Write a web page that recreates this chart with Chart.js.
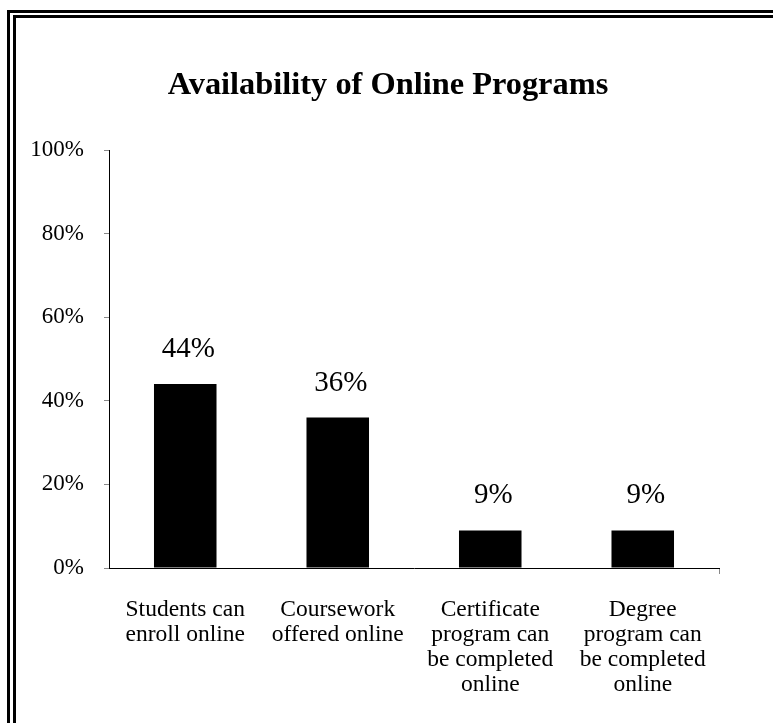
<!DOCTYPE html>
<html>
<head>
<meta charset="utf-8">
<script src="https://cdn.jsdelivr.net/npm/chart.js@4/dist/chart.umd.min.js"></script>
<style>
  html, body { margin: 0; padding: 0; background: #fff; }
  #wrap { position: relative; width: 773px; height: 723px; overflow: hidden; }
  .frame { position: absolute; border-left: 3px solid #000; border-top: 3px solid #000; right: -20px; bottom: -20px; }
  #outer { left: 7px; top: 10px; }
  #inner { left: 13px; top: 15px; }
  canvas { position: absolute; left: 0; top: 0; }
</style>
</head>
<body>
<div id="wrap">
  <div class="frame" id="outer"></div>
  <div class="frame" id="inner"></div>
  <canvas id="chart" width="773" height="723"></canvas>
</div>
<script>
(function () {
    'use strict';

    var chartTitle = 'Availability of Online Programs';
    var categories = [
        ['Students can', 'enroll online'],
        ['Coursework', 'offered online'],
        ['Certificate', 'program can', 'be completed', 'online'],
        ['Degree', 'program can', 'be completed', 'online']
    ];
    var shares = [44, 36, 9, 9];
    var yTicks = [0, 20, 40, 60, 80, 100];

    var serif = "'Liberation Serif', 'Times New Roman', serif";

    // value labels above each bar, plus the title (centred on the plot frame, not the canvas)
    var extras = {
        id: 'extras',
        afterDatasetsDraw: function (chart) {
            var ctx = chart.ctx;
            var meta = chart.getDatasetMeta(0);
            ctx.save();
            ctx.font = '29px ' + serif;
            ctx.fillStyle = '#000';
            ctx.textAlign = 'center';
            ctx.textBaseline = 'alphabetic';
            meta.data.forEach(function (bar, i) {
                ctx.fillText(shares[i] + '%', bar.x + 3, bar.y - 27);
            });

            ctx.font = 'bold 32.4px ' + serif;
            ctx.textBaseline = 'middle';
            ctx.fillText(chartTitle, 388, 86);
            ctx.restore();
        }
    };

    new Chart(document.getElementById('chart'), {
        type: 'bar',
        data: {
            labels: categories,
            datasets: [{
                data: shares,
                backgroundColor: '#000',
                borderWidth: 0,
                categoryPercentage: 1,
                barPercentage: 0.41
            }]
        },
        options: {
            responsive: false,
            animation: false,
            layout: { padding: { left: 0, right: 54, top: 150, bottom: 0 } },
            plugins: {
                legend: { display: false },
                tooltip: { enabled: false },
                title: { display: false }
            },
            scales: {
                x: {
                    afterFit: function (s) { s.height = 155; },
                    border: { color: '#000', width: 1 },
                    grid: {
                        offset: true,
                        drawOnChartArea: false,
                        drawTicks: true,
                        tickLength: 6,
                        color: function (c) { return c.type === 'tick' ? 'rgba(0,0,0,0)' : '#888'; }
                    },
                    ticks: {
                        color: '#000',
                        font: { family: serif, size: 23.5, lineHeight: 1.07 },
                        padding: 23,
                        maxRotation: 0,
                        autoSkip: false
                    }
                },
                y: {
                    min: 0,
                    max: 100,
                    afterFit: function (s) { s.width = 109; },
                    afterBuildTicks: function (s) {
                        s.ticks = yTicks.map(function (v) { return { value: v }; });
                    },
                    border: { color: '#000', width: 1 },
                    grid: {
                        drawOnChartArea: false,
                        drawTicks: true,
                        tickLength: 5,
                        color: '#888'
                    },
                    ticks: {
                        color: '#000',
                        font: { family: serif, size: 23 },
                        padding: 20,
                        callback: function (v) { return v + '%'; }
                    }
                }
            }
        },
        plugins: [extras]
    });
})();
</script>
</body>
</html>
